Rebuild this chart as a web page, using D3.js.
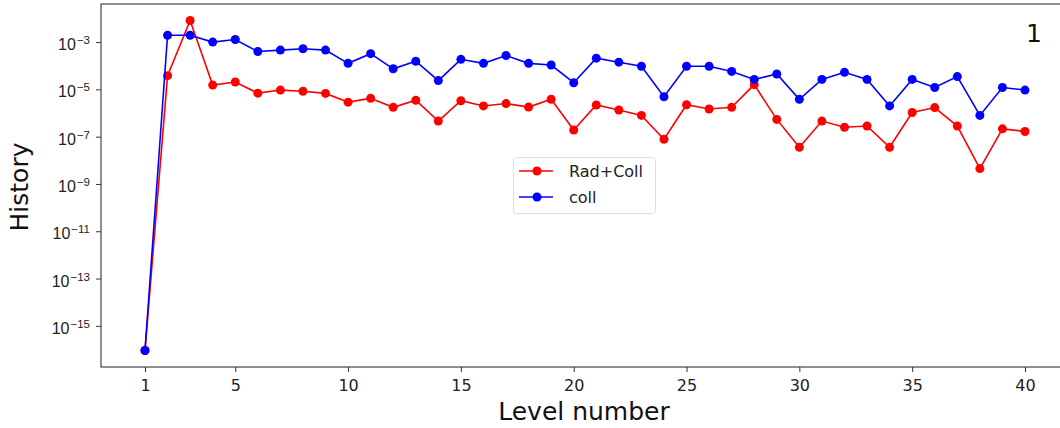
<!DOCTYPE html>
<html><head><meta charset="utf-8">
<script src="https://cdn.jsdelivr.net/npm/d3@7/dist/d3.min.js"></script>
<style>body{margin:0;background:#fff}svg{display:block;font-family:"DejaVu Sans",sans-serif}</style>
</head><body><svg id="c" width="1060" height="428"></svg>
<script>
const levels = d3.range(1, 41);
const radColl = [-16.04,-4.42,-2.09,-4.82,-4.69,-5.16,-5.03,-5.08,-5.17,-5.54,
  -5.38,-5.76,-5.46,-6.34,-5.48,-5.70,-5.60,-5.75,-5.42,-6.72,
  -5.66,-5.87,-6.10,-7.11,-5.65,-5.83,-5.76,-4.80,-6.27,-7.45,
  -6.34,-6.60,-6.55,-7.45,-5.98,-5.77,-6.55,-8.35,-6.67,-6.78].map(e => Math.pow(10, e));
const coll = [-16.04,-2.71,-2.71,-3.00,-2.89,-3.40,-3.34,-3.28,-3.34,-3.90,
  -3.49,-4.13,-3.81,-4.63,-3.73,-3.90,-3.57,-3.90,-3.97,-4.72,
  -3.68,-3.85,-4.02,-5.31,-4.02,-4.02,-4.24,-4.58,-4.35,-5.42,
  -4.58,-4.28,-4.58,-5.70,-4.58,-4.92,-4.46,-6.10,-4.92,-5.03].map(e => Math.pow(10, e));
const xTicks = [1,5,10,15,20,25,30,35,40];
const yTickExps = [-15,-13,-11,-9,-7,-5,-3];
const series = [
  {name:"Rad+Coll", color:"#ff0000", values: radColl},
  {name:"coll", color:"#0000ff", values: coll}
];

const svg = d3.select("#c");
const L = 101, R = 1069, T = 4, B = 367;
const x = d3.scaleLinear().domain([-0.95, 41.95]).range([L, R]);
const y = d3.scaleLog().domain([Math.pow(10,-16.74), Math.pow(10,-1.39)]).range([B, T]);

// axes
const xAxis = d3.axisBottom(x).tickValues(xTicks).tickSize(5).tickFormat(d3.format("d"));
const gx = svg.append("g").attr("transform", `translate(0,${B})`).call(xAxis);
gx.select(".domain").remove();
gx.selectAll("line").attr("stroke","#333");
gx.selectAll("text").attr("y", 24).attr("dy", null).attr("font-size", 16).attr("fill","#222").attr("font-family","DejaVu Sans");

const yAxis = d3.axisLeft(y).tickValues(yTickExps.map(e => Math.pow(10,e))).tickSize(5).tickFormat("");
const gy = svg.append("g").attr("transform", `translate(${L},0)`).call(yAxis);
gy.select(".domain").remove();
gy.selectAll("line").attr("stroke","#333");
gy.selectAll(".tick").each(function(d){
  const e = Math.round(Math.log10(d));
  const t = d3.select(this).append("text").attr("x", -11).attr("y", 7.5)
    .attr("text-anchor","end").attr("fill","#222").attr("font-size",16);
  t.append("tspan").text("10");
  t.append("tspan").attr("dy", -6).attr("font-size",11.5).attr("dx", 1).text("\u2212" + Math.abs(e));
});

// spines
svg.append("rect").attr("x", L).attr("y", T).attr("width", R-L).attr("height", B-T)
  .attr("fill","none").attr("stroke","#333").attr("stroke-width",1.1);

// series
const line = d3.line().x((d,i) => x(levels[i])).y(d => y(d));
series.forEach(s => {
  svg.append("path").datum(s.values).attr("d", line).attr("fill","none")
    .attr("stroke", s.color).attr("stroke-width", 1.6);
  svg.append("g").selectAll("circle").data(s.values).join("circle")
    .attr("cx",(d,i) => x(levels[i])).attr("cy", d => y(d)).attr("r", 4.5).attr("fill", s.color);
});

// labels
svg.append("text").attr("x", 584).attr("y", 420).attr("text-anchor","middle")
  .attr("font-size", 25).attr("fill","#111").text("Level number");
svg.append("text").attr("transform","translate(28,187) rotate(-90)").attr("text-anchor","middle")
  .attr("font-size", 25).attr("fill","#111").text("History");
svg.append("text").attr("x", 1042).attr("y", 42).attr("text-anchor","end")
  .attr("font-size", 25).attr("fill","#111").text("1");

// legend
const lg = svg.append("g");
lg.append("rect").attr("x", 513.5).attr("y", 157.5).attr("width", 142).attr("height", 56).attr("rx", 3)
  .attr("fill","#fff").attr("fill-opacity",0.8).attr("stroke","#ddd");
series.forEach((s,i) => {
  const cy = 171 + i*26;
  lg.append("line").attr("x1",519).attr("x2",553).attr("y1",cy).attr("y2",cy).attr("stroke",s.color).attr("stroke-width",1.6);
  lg.append("circle").attr("cx",537).attr("cy",cy).attr("r",4.5).attr("fill",s.color);
  lg.append("text").attr("x",569).attr("y",cy).attr("dy","0.36em").attr("font-size",16).attr("fill","#222").text(s.name);
});
</script></body></html>
